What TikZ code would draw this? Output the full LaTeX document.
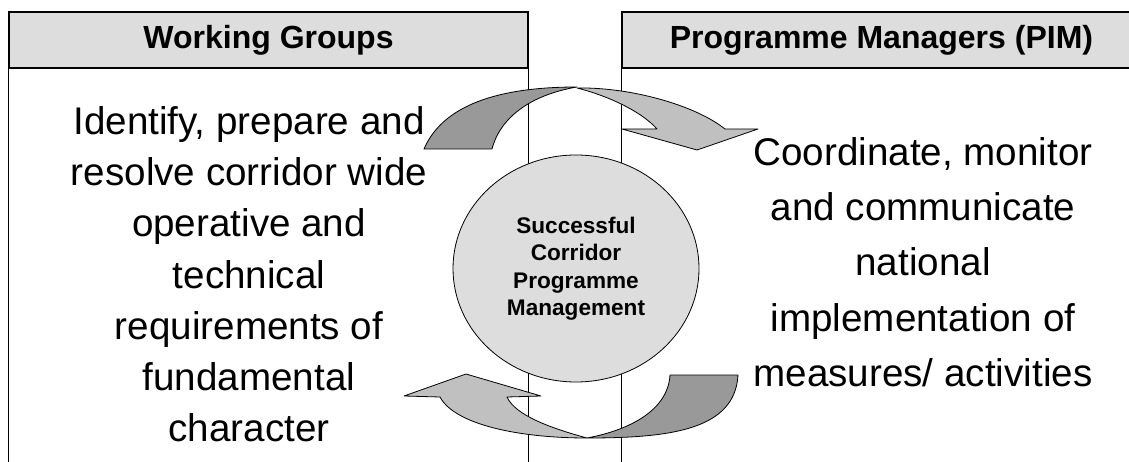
\documentclass[tikz,border=0pt]{standalone}
\usepackage{fontspec}
\setmainfont{Liberation Sans}
\usetikzlibrary{shapes.geometric}

\definecolor{boxgray}{HTML}{DDDDDD}
\definecolor{arrowdark}{HTML}{999999}
\definecolor{arrowlight}{HTML}{C0C0C0}

\tikzset{
  header/.style={draw, line width=1.2pt, fill=boxgray, minimum width=519pt,
    minimum height=56pt, inner sep=0pt, font=\fontsize{32pt}{38pt}\selectfont\bfseries},
  bodytext/.style={align=center, inner sep=0pt, anchor=north},
  band/.style={draw, line width=0.8pt, line join=round},
}

\begin{document}
\begin{tikzpicture}[x=1pt, y=-1pt]
\useasboundingbox (0,0) rectangle (1129,462);
\clip (0,0) rectangle (1129,462);

% 表头
\node[header] (wg) at (268.5,40) {Working Groups};
\node[header] (pim) at (881.5,40) {Programme Managers (PIM)};

% 栏线
\coordinate (bot) at (0,462);
\draw[line width=1.2pt] (wg.south west) -- (wg.south west |- bot);
\draw (wg.south east) -- (wg.south east |- bot);
\draw (pim.south west) -- (pim.south west |- bot);

% 正文
\node[bodytext, font=\fontsize{38.6pt}{51.3pt}\selectfont] (wgtext) at (249,106)
  {Identify, prepare and\\resolve corridor wide\\operative and\\technical\\requirements of\\fundamental\\character};
\node[bodytext, font=\fontsize{38.6pt}{55.3pt}\selectfont] (pimtext) at (923,137)
  {Coordinate, monitor\\and communicate\\national\\implementation of\\measures/ activities};

% 中间的圆
\node[ellipse, draw, fill=boxgray, line width=0.8pt, minimum width=246pt,
  minimum height=227pt, inner sep=0pt, align=center,
  font=\fontsize{22.6pt}{27.5pt}\selectfont\bfseries] (core) at (576,268.5)
  {Successful\\Corridor\\Programme\\Management};

% 上方箭头
\draw[band, fill=arrowdark] (424,149) .. controls (445,100) and (510,87) .. (577,87)
  .. controls (530,95) and (500,118) .. (492,149) -- cycle;
\draw[band, fill=arrowlight] (577,88) .. controls (630,87) and (695,105) .. (725,129)
  -- (758,129) -- (697,150) -- (622,129) -- (657,129)
  .. controls (640,110) and (605,95) .. (577,88) -- cycle;

% 下方箭头
\draw[band, fill=arrowdark] (738,375) .. controls (735,430) and (670,438) .. (587,438)
  .. controls (630,430) and (668,410) .. (670,375) -- cycle;
\draw[band, fill=arrowlight] (587,438) .. controls (520,438) and (455,425) .. (440,397)
  -- (404,396) -- (466,374) -- (541,396) -- (507,397)
  .. controls (515,415) and (550,428) .. (587,438) -- cycle;
\end{tikzpicture}
\end{document}
